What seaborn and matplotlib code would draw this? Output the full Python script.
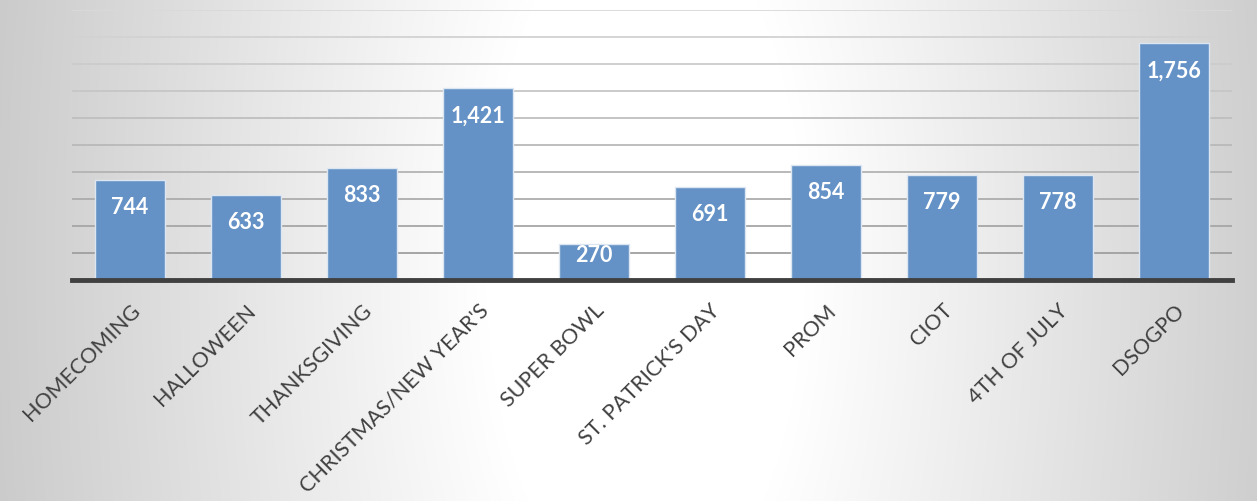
import numpy as np
import pandas as pd
import matplotlib
matplotlib.use('Agg')
import matplotlib.pyplot as plt
import seaborn as sns

# chart data
events = ['HOMECOMING', 'HALLOWEEN', 'THANKSGIVING', "CHRISTMAS/NEW YEAR'S", 'SUPER BOWL',
          "ST. PATRICK'S DAY", 'PROM', 'CIOT', '4TH OF JULY', 'DSOGPO']
counts = [744, 633, 833, 1421, 270, 691, 854, 779, 778, 1756]
y_max = 2000
y_step = 200

df = pd.DataFrame({'event': events, 'count': counts})

sns.set_theme(style='white')
plt.rcParams['font.family'] = ['Lato', 'DejaVu Sans']

fig = plt.figure(figsize=(12.57, 5.02), dpi=100)

# grey background, white in the middle
bg = fig.add_axes([0, 0, 1, 1], zorder=-1)
h, w = 502, 1257
yy, xx = np.mgrid[0:h, 0:w]
d = np.sqrt((xx - 645) ** 2 + (0.45 * (yy - 260)) ** 2)
gray = 1 - 0.00041 * np.clip(d - 160, 0, None)
bg.imshow(np.dstack([gray, gray, gray]), aspect='auto', extent=[0, 1, 0, 1])
bg.axis('off')

ax = fig.add_axes([72 / 1257, 1 - 281 / 502, 1160 / 1257, 270 / 502])
ax.set_facecolor('none')

sns.barplot(data=df, x='event', y='count', color='#6592c6', saturation=1,
            width=0.6, edgecolor='#dce6f2', linewidth=1, ax=ax, zorder=3)

ax.set_ylim(0, y_max)
ax.set_xlim(-0.5, len(events) - 0.5)
ax.set_yticks(np.arange(0, y_max + 1, y_step))
ax.yaxis.grid(True, linewidth=1.3, zorder=0)
glines = ax.get_ygridlines()
for i, gl in enumerate(glines):
    shade = 0.60 + 0.25 * i / (len(glines) - 1)
    gl.set_color((shade, shade, shade))
ax.set_axisbelow(True)
ax.tick_params(axis='y', left=False, labelleft=False)
ax.tick_params(axis='x', bottom=False, pad=8)
for s in ['top', 'right', 'left']:
    ax.spines[s].set_visible(False)
ax.spines['bottom'].set_color('#404040')
ax.spines['bottom'].set_linewidth(3.5)
ax.spines['bottom'].set_zorder(5)
ax.set_xlabel('')
ax.set_ylabel('')

for lbl in ax.get_xticklabels():
    lbl.set_rotation(45)
    lbl.set_ha('right')
    lbl.set_va('top')
    lbl.set_rotation_mode('anchor')
    lbl.set_fontsize(15.5)
    lbl.set_color('#404040')

# value labels, inside end of each bar
for i, v in enumerate(counts):
    ypos = max(v - y_step, 190)
    ax.text(i, ypos, f'{v:,}', ha='center', va='center', color='white',
            fontsize=15.5, fontweight='bold', zorder=6)

fig.savefig('out.png', dpi=100)
